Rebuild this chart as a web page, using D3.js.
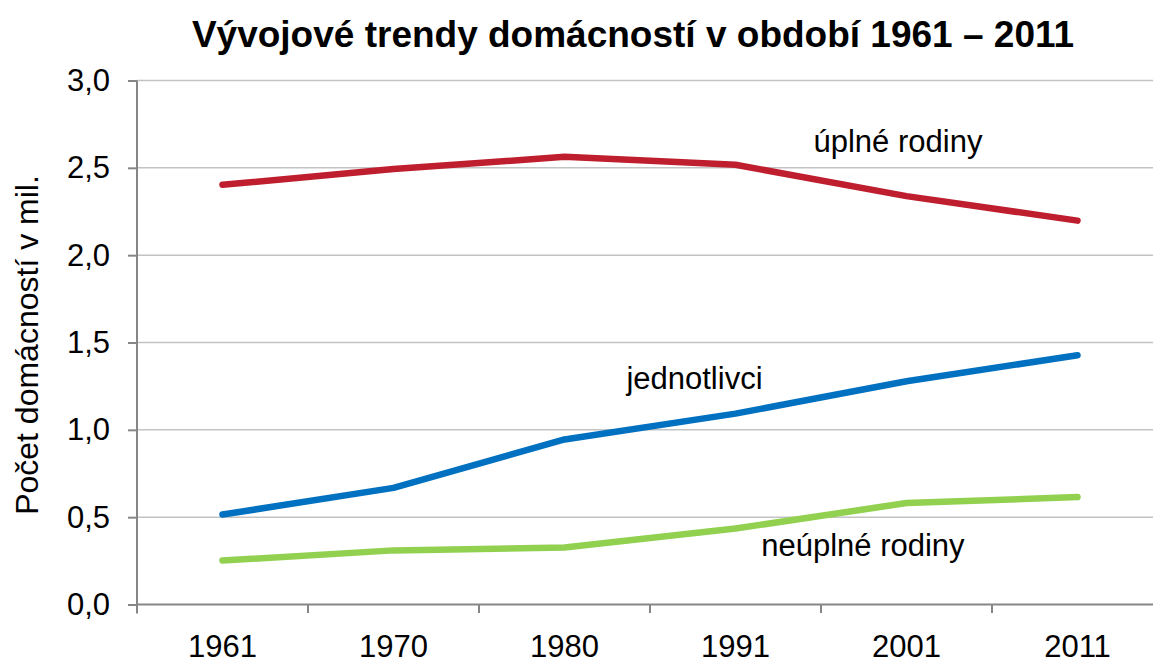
<!DOCTYPE html>
<html lang="cs">
<head>
<meta charset="UTF-8">
<title>Vývojové trendy domácností</title>
<script src="https://d3js.org/d3.v7.min.js"></script>
<style>
  html, body { margin: 0; padding: 0; background: #fff; }
  svg { display: block; font-family: "Liberation Sans", Arial, sans-serif; }
</style>
</head>
<body>
<div id="chart"></div>
<script>
// data (millions of households)
var years = ["1961", "1970", "1980", "1991", "2001", "2011"];
var uplne = [2.40, 2.49, 2.56, 2.515, 2.335, 2.195];
var jednotlivci = [0.512, 0.665, 0.942, 1.09, 1.275, 1.424];
var neuplne = [0.249, 0.307, 0.323, 0.432, 0.578, 0.612];
var yTicks = [0, 0.5, 1.0, 1.5, 2.0, 2.5, 3.0];

var seriesNames = ["úplné rodiny", "jednotlivci", "neúplné rodiny"];
var seriesValues = [uplne, jednotlivci, neuplne];
var seriesColors = ["#be1e2d", "#0070c0", "#92d050"];
// label anchor: [position in year steps from 1961, value] for each series name
var labelPos = [[3.95, 2.585], [2.76, 1.229], [3.745, 0.273]];

var width = 1153, height = 664;
var plotLeft = 137, plotRight = 1163, plotTop = 80, plotBottom = 604;

var svg = d3.select("#chart").append("svg")
  .attr("width", width)
  .attr("height", height);

var x = d3.scaleBand()
  .domain(years)
  .range([plotLeft, plotRight]);

var y = d3.scaleLinear()
  .domain([0, 3])
  .range([plotBottom, plotTop]);

var fmt = function(d) { return d3.format(".1f")(d).replace(".", ","); };

// gridlines
svg.append("g")
  .selectAll("line")
  .data(yTicks.filter(function(d) { return d > 0; }))
  .enter().append("line")
    .attr("x1", plotLeft)
    .attr("x2", width)
    .attr("y1", function(d) { return y(d) + 0.5; })
    .attr("y2", function(d) { return y(d) + 0.5; })
    .attr("stroke", "#c3c3c3")
    .attr("stroke-width", 1.5);

// Y axis
var yAxis = svg.append("g")
  .attr("transform", "translate(" + plotLeft + ",0.5)")
  .call(d3.axisLeft(y).tickValues(yTicks).tickSize(9).tickPadding(18).tickFormat(fmt));
yAxis.select(".domain").attr("stroke", "#868686").attr("stroke-width", 2)
  .attr("d", "M0," + plotTop + "V" + (plotBottom + 9));
yAxis.selectAll(".tick line").attr("stroke", "#868686").attr("stroke-width", 2);
yAxis.selectAll(".tick text")
  .attr("font-size", 31)
  .attr("font-family", "Liberation Sans, Arial, sans-serif")
  .attr("fill", "#000");

// X axis
var xAxis = svg.append("g")
  .attr("transform", "translate(0," + (plotBottom + 0.5) + ")")
  .call(d3.axisBottom(x).tickSize(0).tickPadding(30));
xAxis.select(".domain").attr("stroke", "#868686").attr("stroke-width", 2)
  .attr("d", "M" + plotLeft + ",0H" + width);
xAxis.selectAll(".tick text")
  .attr("font-size", 31)
  .attr("font-family", "Liberation Sans, Arial, sans-serif")
  .attr("fill", "#000");

// category separators on x axis
svg.append("g")
  .selectAll("line")
  .data(years.slice(1))
  .enter().append("line")
    .attr("x1", function(d) { return x(d); })
    .attr("x2", function(d) { return x(d); })
    .attr("y1", plotBottom)
    .attr("y2", plotBottom + 9)
    .attr("stroke", "#868686")
    .attr("stroke-width", 2);

// lines
var line = d3.line()
  .x(function(d, i) { return x(years[i]) + x.bandwidth() / 2; })
  .y(function(d) { return y(d); });

svg.append("g")
  .selectAll("path")
  .data(seriesValues)
  .enter().append("path")
    .attr("d", line)
    .attr("fill", "none")
    .attr("stroke", function(d, i) { return seriesColors[i]; })
    .attr("stroke-width", 6.5)
    .attr("stroke-linecap", "round")
    .attr("stroke-linejoin", "round");

// series labels
var pos = function(p) { return x(years[0]) + x.bandwidth() / 2 + p[0] * x.step(); };
svg.append("g")
  .selectAll("text")
  .data(seriesNames)
  .enter().append("text")
    .attr("x", function(d, i) { return pos(labelPos[i]); })
    .attr("y", function(d, i) { return y(labelPos[i][1]); })
    .attr("text-anchor", "middle")
    .attr("font-size", 31)
    .attr("fill", "#000")
    .text(function(d) { return d; });

// title
svg.append("text")
  .attr("x", 633)
  .attr("y", 47)
  .attr("text-anchor", "middle")
  .attr("font-size", 37)
  .attr("font-weight", "bold")
  .attr("fill", "#000")
  .text("Vývojové trendy domácností v období 1961 – 2011");

// y axis title
svg.append("text")
  .attr("transform", "translate(38,345) rotate(-90)")
  .attr("text-anchor", "middle")
  .attr("font-size", 32)
  .attr("fill", "#000")
  .text("Počet domácností v mil.");
</script>
</body>
</html>
